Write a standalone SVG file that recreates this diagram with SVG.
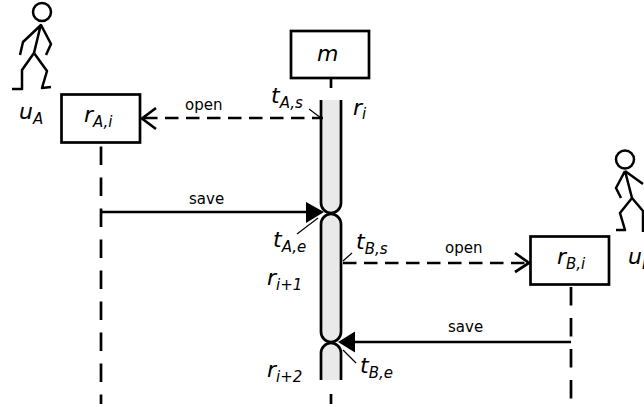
<svg xmlns="http://www.w3.org/2000/svg" width="644" height="407" viewBox="0 0 644 407">
<style>
.l{fill:none;stroke:#000;stroke-width:2.5;stroke-linejoin:round}
.b{fill:#fff;stroke:#000;stroke-width:2.7}
.d{fill:none;stroke:#000;stroke-width:2.7;stroke-dasharray:18.500 12.500}
.c{fill:none;stroke:#000;stroke-width:2.7}
.a{fill:none;stroke:#000;stroke-width:2.7;stroke-dasharray:13.500 7.500}
.t{fill:none;stroke:#000;stroke-width:1.2}
.s{fill:#e9e9e9;stroke:none}
.e{fill:none;stroke:#000;stroke-width:2.7}
text{font-family:"DejaVu Sans",sans-serif;fill:#000}
.i{font-style:oblique;font-size:22px}
.u{font-style:oblique;font-size:15px}
.m{font-size:15px}
</style>
<g id="connectors">
<path class="d" d="M101 146.500V404"/>
<path class="c" d="M331 78V88"/>
<path class="c" d="M331 394V404"/>
<path class="d" d="M571 287V398.500"/>
<path class="s" d="M321 100H341V203A10 10 0 0 1 331 213A10 10 0 0 1 321 203Z"/>
<path class="s" d="M321 224A10 10 0 0 1 331 214A10 10 0 0 1 341 224V332A10 10 0 0 1 331 342A10 10 0 0 1 321 332Z"/>
<path class="s" d="M321 353A10 10 0 0 1 331 343A10 10 0 0 1 341 353V380H321Z"/>
<path class="e" d="M321 100V203A10 10 0 0 0 331 213A10 10 0 0 0 341 203V100"/>
<path class="e" d="M321 224A10 10 0 0 1 331 214A10 10 0 0 1 341 224V332A10 10 0 0 1 331 342A10 10 0 0 1 321 332Z"/>
<path class="e" d="M321 380V353A10 10 0 0 1 331 343A10 10 0 0 1 341 353V380"/>
<path class="a" d="M144 118H323"/><path class="c" d="M156 108L142 118.500L156 129"/>
<path class="c" d="M101 212H308"/><path d="M306 202L324 212L306 223Z"/>
<path class="a" d="M343 263H526"/><path class="c" d="M515 253L529 263L515 272"/>
<path class="c" d="M571 342H354"/><path d="M355 331.500L338 342L355 352.500Z"/>
<path class="t" d="M309 109L321 118"/>
<path class="t" d="M297 234L318 218"/>
<path class="t" d="M352 253L343 261"/>
<path class="t" d="M343 350L356 363"/>
<text class="m" x="185" y="110">open</text>
<text class="m" x="189" y="204">save</text>
<text class="m" x="445" y="253">open</text>
<text class="m" x="448" y="332">save</text>
</g>
<g id="user-a">
<circle class="l" cx="42" cy="12" r="9"/>
<path class="l" d="M41 24L34 53M41 25L23 42L20 55M41 25L51 44L46 55M34 53L22 70V89H12M34 53L47 71L42 88L51 87"/>
<text class="i" x="19" y="119">u<tspan class="u" dy="5">A</tspan></text>
</g>
<g id="node-ra">
<rect class="b" x="61.500" y="94.500" width="78.500" height="48"/>
<text class="i" x="84" y="122">r<tspan class="u" dy="5">A,i</tspan></text>
</g>
<g id="node-m">
<rect class="b" x="291" y="31" width="78" height="47"/>
<text class="i" x="317" y="61">m</text>
</g>
<g id="node-rb">
<rect class="b" x="530.500" y="236.500" width="78.500" height="48"/>
<text class="i" x="557" y="264">r<tspan class="u" dy="5">B,i</tspan></text>
</g>
<g id="user-b">
<circle class="l" cx="625" cy="159.500" r="9"/>
<path class="l" d="M625 171L632 198M625 171L616 188L621 198M625 171L643 184M632 198L620 213L625 230H616M632 198L643 211V232"/>
<text class="i" x="628" y="264">u<tspan class="u" dy="5">B</tspan></text>
</g>
<g id="labels">
<text class="i" x="271" y="103">t<tspan class="u" dy="5">A,s</tspan></text>
<text class="i" x="353" y="115">r<tspan class="u" dy="4">i</tspan></text>
<text class="i" x="273" y="247">t<tspan class="u" dy="5">A,e</tspan></text>
<text class="i" x="356" y="249">t<tspan class="u" dy="5">B,s</tspan></text>
<text class="i" x="267" y="285">r<tspan class="u" dy="5">i+1</tspan></text>
<text class="i" x="360" y="373">t<tspan class="u" dy="5">B,e</tspan></text>
<text class="i" x="267" y="377">r<tspan class="u" dy="5">i+2</tspan></text>
</g>
</svg>
